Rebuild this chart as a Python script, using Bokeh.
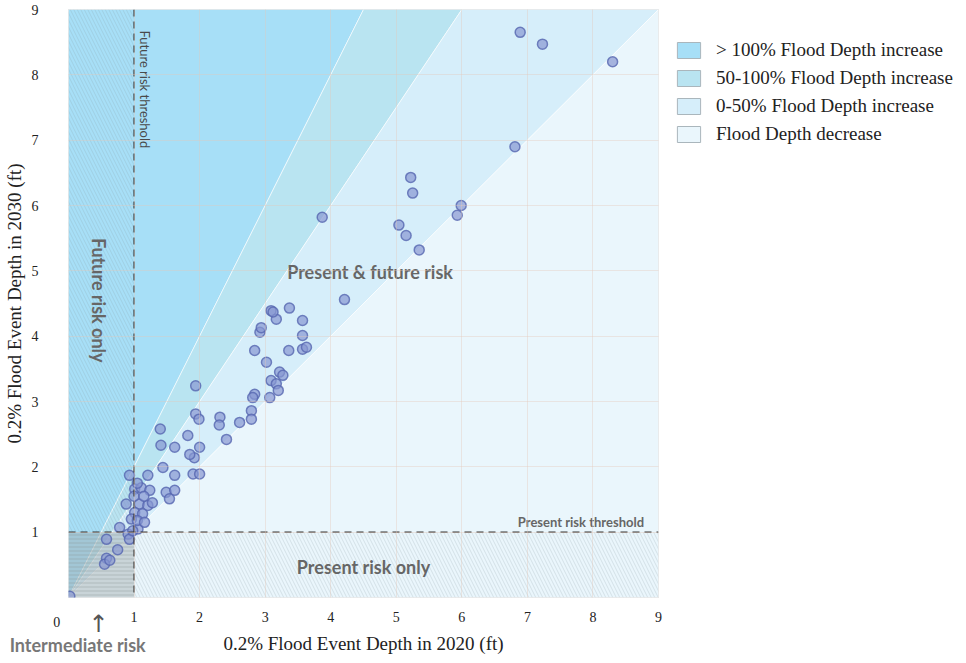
import math
from bokeh.plotting import figure
from bokeh.models import (ColumnDataSource, Label, Span, Legend, LegendItem, FixedTicker)
from bokeh.embed import file_html
from bokeh.resources import INLINE

# ---------------- data ----------------
depth_2020 = [0.02,
              0.58, 0.75, 0.58, 0.55, 0.63, 0.78, 0.91, 0.93, 1.06, 0.98,
              0.93, 1.21, 1.01, 1.11, 1.24, 0.88, 1.08, 1.21, 1.01, 1.13, 1.28, 0.96, 1.05, 1.16, 1.00, 1.15, 1.05,
              1.49, 1.62, 1.54, 1.44, 1.62, 1.41, 1.62, 1.82, 1.92, 2.00, 1.90, 2.00, 1.85,
              1.94, 1.40, 1.94, 1.99, 2.31, 2.30, 2.41, 2.61, 2.79, 2.79, 2.84, 2.81, 3.07, 3.09, 3.17, 3.20,
              3.22, 3.27, 3.02, 2.84, 3.36, 3.57, 3.63, 3.57, 2.92, 2.94, 3.09, 3.17, 3.37, 3.57, 3.12,
              4.21, 3.87, 5.04, 5.15, 5.35, 5.99, 5.93, 5.25, 5.22,
              6.89, 7.23, 8.30, 6.81]
depth_2030 = [0.02,
              0.89, 0.73, 0.60, 0.51, 0.57, 1.07, 0.97, 0.89, 1.05, 1.02,
              1.87, 1.87, 1.66, 1.68, 1.64, 1.43, 1.43, 1.41, 1.30, 1.28, 1.45, 1.20, 1.18, 1.15, 1.55, 1.55, 1.75,
              1.61, 1.64, 1.51, 1.99, 1.87, 2.33, 2.30, 2.48, 2.14, 2.30, 1.89, 1.89, 2.19,
              3.24, 2.58, 2.81, 2.73, 2.76, 2.64, 2.42, 2.68, 2.86, 2.73, 3.11, 3.06, 3.06, 3.32, 3.27, 3.17,
              3.45, 3.40, 3.60, 3.78, 3.78, 3.80, 3.83, 4.01, 4.06, 4.13, 4.39, 4.26, 4.43, 4.24, 4.37,
              4.56, 5.82, 5.70, 5.54, 5.32, 6.00, 5.85, 6.19, 6.43,
              8.65, 8.47, 8.20, 6.90]

axis_max = 9
ticks = list(range(0, 10))
threshold = 1
region_names = ["> 100% Flood Depth increase", "50-100% Flood Depth increase",
                "0-50% Flood Depth increase", "Flood Depth decrease"]
region_colors = ["#a7dff7", "#b9e4f1", "#d6eefa", "#eaf6fc"]
ratio_bounds = [2.0, 1.5, 1.0]   # 2030/2020 ratios separating the regions

SERIF = "Liberation Serif"
SANS = "Lato"

p = figure(frame_width=590, frame_height=588, x_range=(0, axis_max), y_range=(0, axis_max),
           output_backend="svg", toolbar_location=None,
           min_border_left=61, min_border_right=20, min_border_top=9, min_border_bottom=58,
           outline_line_color="#dddddd", background_fill_color="white")

# ---- region polygons computed from the ratio boundaries ----
edges_x = [axis_max / r for r in ratio_bounds]
xs = [[0, edges_x[0], 0],
      [0, edges_x[1], edges_x[0]],
      [0, edges_x[2], edges_x[1]],
      [0, axis_max, axis_max]]
ys = [[0, axis_max, axis_max],
      [0, axis_max, axis_max],
      [0, axis_max, axis_max],
      [0, 0, axis_max]]
p.patches(xs, ys, fill_color=region_colors, line_color="white", line_alpha=0.6, line_width=1)

# ---- hatched risk zones ----
p.quad(left=[0], right=[threshold], bottom=[threshold], top=[axis_max],
       fill_alpha=0, line_alpha=0, hatch_pattern="\\", hatch_color="#7f8f99",
       hatch_alpha=0.35, hatch_scale=7, hatch_weight=0.6)
p.quad(left=[threshold], right=[axis_max], bottom=[0], top=[threshold],
       fill_alpha=0, line_alpha=0, hatch_pattern="\\", hatch_color="#7f8f99",
       hatch_alpha=0.35, hatch_scale=7, hatch_weight=0.6)
p.quad(left=[0], right=[threshold], bottom=[0], top=[threshold],
       fill_color="#9aa5a8", fill_alpha=0.42, line_alpha=0, hatch_pattern="-",
       hatch_color="#8a9294", hatch_alpha=0.6, hatch_scale=4, hatch_weight=0.7)

# ---- points ----
src = ColumnDataSource(dict(x=depth_2020, y=depth_2030))
p.scatter("x", "y", source=src, size=10, fill_color="#8797d2", fill_alpha=0.7,
          line_color="#5666b0", line_width=1.5, line_alpha=0.8)

# ---- threshold lines ----
p.add_layout(Span(location=threshold, dimension="height", line_color="#333333",
                  line_dash="7 5", line_width=1.2))
p.add_layout(Span(location=threshold, dimension="width", line_color="#333333",
                  line_dash="7 5", line_width=1.2))

# ---- grid / axes ----
p.xgrid.ticker = FixedTicker(ticks=ticks)
p.ygrid.ticker = FixedTicker(ticks=ticks)
for g in (p.xgrid, p.ygrid):
    g.grid_line_color = "#e6c7b8"
    g.grid_line_alpha = 0.38
    g.level = "overlay"

for ax in (p.xaxis, p.yaxis):
    ax.ticker = FixedTicker(ticks=ticks)
    ax.axis_line_color = None
    ax.major_tick_line_color = None
    ax.minor_tick_line_color = None
    ax.major_label_text_font = SERIF
    ax.major_label_text_font_size = "14px"
    ax.major_label_text_color = "#222222"
    ax.axis_label_text_font = SERIF
    ax.axis_label_text_font_size = "19px"
    ax.axis_label_text_font_style = "normal"
    ax.axis_label_text_color = "#222222"
    ax.major_label_overrides = {0: ""}
p.xaxis.major_label_standoff = 8
p.yaxis.major_label_standoff = 24
p.xaxis.axis_label = "0.2% Flood Event Depth in 2020 (ft)"
p.yaxis.axis_label = "0.2% Flood Event Depth in 2030 (ft)"
p.xaxis.axis_label_standoff = 8
p.yaxis.axis_label_standoff = 4

# ---- annotations inside the frame ----
lab = dict(text_font=SANS, text_color="#666666", text_font_style="bold")
p.add_layout(Label(x=1.16, y=8.68, text="Future risk threshold", angle=-math.pi / 2,
                   text_align="left", text_baseline="middle", text_font_size="13px",
                   text_font=SANS, text_color="#4a4a4a"))
p.add_layout(Label(x=0.46, y=4.55, text="Future risk only", angle=-math.pi / 2,
                   text_align="center", text_baseline="middle", text_font_size="18px", **lab))
p.add_layout(Label(x=4.6, y=4.98, text="Present & future risk", text_align="center",
                   text_baseline="middle", text_font_size="18px", **lab))
p.add_layout(Label(x=4.5, y=0.47, text="Present risk only", text_align="center",
                   text_baseline="middle", text_font_size="18px", **lab))
p.add_layout(Label(x=8.78, y=1.16, text="Present risk threshold", text_align="right",
                   text_baseline="middle", text_font_size="13px", **lab))

# ---- annotations below the frame (placed in the below panel) ----
p.add_layout(Label(x=-0.18, y=-0.37, text="0", text_font=SERIF, text_font_size="14px",
                   text_color="#222222", text_align="center", text_baseline="middle"), "below")
p.add_layout(Label(x=0.14, y=-0.72, text="Intermediate risk", text_align="center",
                   text_baseline="middle", text_font_size="18px", text_font=SANS,
                   text_color="#777777", text_font_style="bold"), "below")
p.add_layout(Label(x=0.46, y=-0.40, text="↑", text_align="center",
                   text_baseline="middle", text_font_size="24px", text_font="DejaVu Sans",
                   text_color="#555555"), "below")

# ---- legend (invisible proxy renderers, one NaN row each) ----
nan = float("nan")
items = []
for name, col in zip(region_names, region_colors):
    r = p.quad(left=[nan], right=[nan], top=[nan], bottom=[nan], fill_color=col,
               line_color="#aab6bc", line_width=1)
    items.append(LegendItem(label=name, renderers=[r]))
legend = Legend(items=items, location=(16, 452), glyph_width=29, glyph_height=20,
                label_height=20, spacing=6, padding=0, margin=0,
                label_text_font=SERIF, label_text_font_size="19px",
                label_text_color="#222222", background_fill_alpha=0,
                border_line_alpha=0, label_standoff=13)
p.add_layout(legend, "right")

open("out.html", "w").write(file_html(p, INLINE))
